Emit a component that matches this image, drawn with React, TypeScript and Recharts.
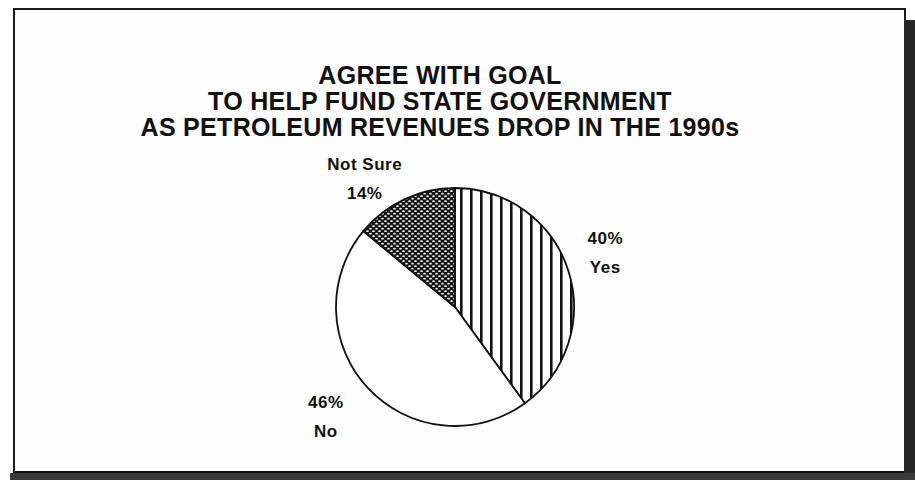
import { Cell, Pie, PieChart } from "recharts";

const categories = ["Yes", "No", "Not Sure"];
const shares = [40, 46, 14];
const titleLines = [
  "AGREE WITH GOAL",
  "TO HELP FUND STATE GOVERNMENT",
  "AS PETROLEUM REVENUES DROP IN THE 1990s",
];

const data = categories.map((name, i) => ({ name, value: shares[i] }));

const fills = ["url(#vstripes)", "#ffffff", "url(#dots)"];
const FONT = "'Liberation Sans', Arial, sans-serif";
const RAD = Math.PI / 180;

// small hand nudges so the labels sit where the original typesetter put them
const nudge: Record<string, [number, number]> = {
  Yes: [0, -6],
  No: [-14, 1],
  "Not Sure": [-23, 14],
};

function renderLabel(props: any) {
  const { cx, cy, midAngle, outerRadius, name, value } = props;
  const d = outerRadius + 39;
  const [nx, ny] = nudge[name] ?? [0, 0];
  const x = cx + d * Math.cos(-midAngle * RAD) + nx;
  const y = cy + d * Math.sin(-midAngle * RAD) + ny;
  const pct = `${value}%`;
  // label above the pie reads name first, the rest percent first
  const lines = y < cy - outerRadius ? [name, pct] : [pct, name];
  return (
    <text
      x={x}
      y={y}
      textAnchor="middle"
      fontFamily={FONT}
      fontWeight="bold"
      fontSize={17}
      letterSpacing={0.5}
      fill="#111"
    >
      <tspan x={x} y={y - 14.5 + 6}>
        {lines[0]}
      </tspan>
      <tspan x={x} y={y + 14.5 + 6}>
        {lines[1]}
      </tspan>
    </text>
  );
}

export default function App() {
  return (
    <div
      style={{
        position: "absolute",
        left: 0,
        top: 0,
        width: 915,
        height: 480,
        background: "#fff",
        overflow: "hidden",
      }}
    >
      {/* frame of the scanned page */}
      <div
        style={{
          position: "absolute",
          left: 13,
          top: 8,
          width: 889,
          height: 461,
          borderTop: "2px solid #1a1a1a",
          borderLeft: "2px solid #1a1a1a",
          borderRight: "2px solid #1a1a1a",
          borderBottom: "3px solid #111",
          background: "#fdfdfd",
        }}
      />
      <div
        style={{
          position: "absolute",
          left: 904,
          top: 20,
          width: 11,
          height: 460,
          background: "#262626",
        }}
      />
      <div
        style={{
          position: "absolute",
          left: 10,
          top: 473,
          width: 905,
          height: 7,
          background: "#3a3a3a",
        }}
      />

      <div
        style={{
          position: "absolute",
          left: 0,
          top: 62,
          width: 880,
          textAlign: "center",
          fontFamily: FONT,
          fontWeight: "bold",
          fontSize: 25,
          letterSpacing: 0.3,
          lineHeight: "26px",
          color: "#111",
        }}
      >
        {titleLines.map((t) => (
          <div key={t}>{t}</div>
        ))}
      </div>

      <div style={{ position: "absolute", left: 0, top: 0 }}>
        <PieChart width={915} height={480}>
          <defs>
            <pattern
              id="vstripes"
              width={10}
              height={10}
              patternUnits="userSpaceOnUse"
            >
              <rect width={10} height={10} fill="#fff" />
              <rect x={0} width={2.6} height={10} fill="#111" />
            </pattern>
            <pattern id="dots" width={6} height={5} patternUnits="userSpaceOnUse">
              <rect width={6} height={5} fill="#151515" />
              <ellipse cx={1.5} cy={1.2} rx={1.3} ry={0.9} fill="#fff" />
              <ellipse cx={4.5} cy={3.7} rx={1.3} ry={0.9} fill="#fff" />
            </pattern>
          </defs>
          <Pie
            data={data}
            dataKey="value"
            nameKey="name"
            cx={450}
            cy={302}
            outerRadius={119}
            startAngle={90}
            endAngle={-270}
            stroke="#111"
            strokeWidth={1.8}
            label={renderLabel}
            labelLine={false}
            isAnimationActive={false}
          >
            {data.map((d, i) => (
              <Cell key={d.name} fill={fills[i]} />
            ))}
          </Pie>
        </PieChart>
      </div>
    </div>
  );
}
